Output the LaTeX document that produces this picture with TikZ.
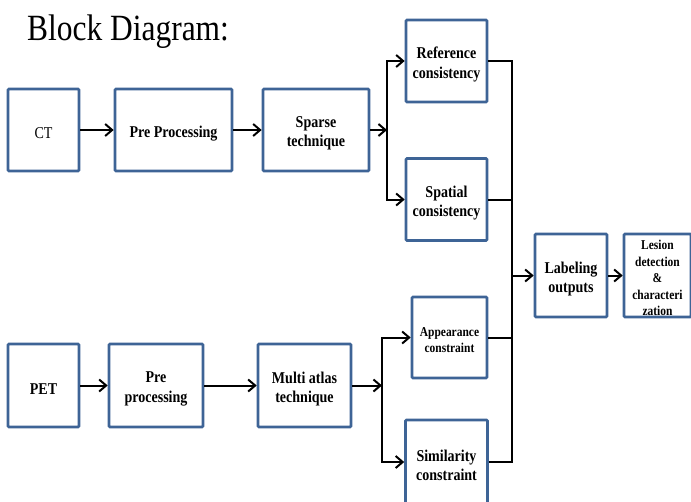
\documentclass[tikz,border=0pt]{standalone}
\usepackage{fontspec}
\setmainfont{Liberation Serif}
\newfontfamily\diag[FakeStretch=0.85]{Liberation Serif}
\usetikzlibrary{arrows.meta}
\definecolor{boxblue}{RGB}{62,100,150}
\tikzset{
  blk/.style={draw=boxblue, line width=2.6pt, rounded corners=1pt, inner sep=0pt},
  big/.style={align=center, inner sep=0pt, yshift=-3.5pt, font=\diag\bfseries\fontsize{16.5}{19.5}\selectfont},
  small/.style={align=center, inner sep=0pt, yshift=-2.5pt, font=\diag\bfseries\fontsize{13.5}{16.5}\selectfont},
  wire/.style={line width=2pt, black},
  arr/.style={wire, -{Straight Barb[length=7pt,width=12pt]}}
}
\begin{document}
\begin{tikzpicture}[x=1pt,y=-1pt]
\useasboundingbox (0,0) rectangle (691,501);
\node[anchor=base west, inner sep=0pt, font=\diag\fontsize{37}{40}\selectfont] (title) at (27,40) {Block Diagram:};
% top row
\node[blk, minimum width=71pt, minimum height=82pt, label={[big, font=\diag\fontsize{16.5}{19.5}\selectfont]center:CT}] (ct) at (43.5,130) {};
\node[blk, minimum width=117pt, minimum height=82pt, label={[big]center:Pre Processing}] (pre1) at (173.5,130) {};
\node[blk, minimum width=106pt, minimum height=82pt, label={[big]center:{Sparse\\technique}}] (sparse) at (316,130) {};
\node[blk, minimum width=81pt, minimum height=82pt, label={[big]center:{Reference\\consistency}}] (ref) at (446.5,61) {};
\node[blk, minimum width=81pt, minimum height=82pt, label={[big]center:{Spatial\\consistency}}] (spat) at (446.5,199.5) {};
% bottom row
\node[blk, minimum width=71pt, minimum height=83pt, label={[big]center:PET}] (pet) at (43.5,385.5) {};
\node[blk, minimum width=94pt, minimum height=83pt, label={[big]center:{Pre\\processing}}] (pre2) at (156,385.5) {};
\node[blk, minimum width=93pt, minimum height=83pt, label={[big]center:{Multi atlas\\technique}}] (multi) at (304.5,385.5) {};
\node[blk, minimum width=75pt, minimum height=81pt, label={[small]center:{Appearance\\constraint}}] (app) at (449.5,337.5) {};
\node[blk, minimum width=82pt, minimum height=84pt, label={[big]center:{Similarity\\constraint}}] (sim) at (446.5,462) {};
% right side
\node[blk, minimum width=72pt, minimum height=83pt, label={[big]center:{Labeling\\outputs}}] (lab) at (571,275.5) {};
\node[blk, minimum width=67pt, minimum height=83pt, label={[small]center:{Lesion\\detection\\\&\\characteri\\zation}}] (les) at (657.5,275.5) {};
% junctions
\coordinate (j1) at (387,130);
\coordinate (j2) at (382,385.5);
\coordinate (c) at (512,275.5);
% connectors
\draw[arr] (ct) -- (pre1);
\draw[arr] (pre1) -- (sparse);
\draw[arr] (sparse) -- (j1);
\draw[arr] (j1) |- (ref.west);
\draw[arr] (j1) |- (spat.west);
\draw[arr] (pet) -- (pre2);
\draw[arr] (pre2) -- (multi);
\draw[arr] (multi) -- (j2);
\draw[arr] (j2) |- (app.west);
\draw[arr] (j2) |- (sim.west);
\draw[wire] (ref.east) -| (c);
\draw[wire] (spat.east) -| (c);
\draw[wire] (app.east) -| (c);
\draw[wire] (sim.east) -| (c);
\draw[arr] (c) -- (lab.west);
\draw[arr] (lab) -- (les);
\end{tikzpicture}
\end{document}
